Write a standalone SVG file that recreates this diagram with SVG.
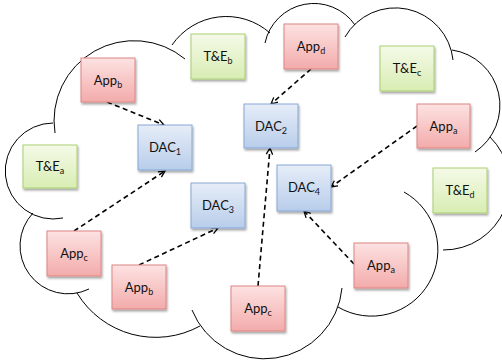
<svg xmlns="http://www.w3.org/2000/svg" width="502" height="360" viewBox="0 0 502 360">
  <defs>
    <linearGradient id="gApp" x1="0" y1="0" x2="0" y2="1">
      <stop offset="0" stop-color="#fde2e2"/>
      <stop offset="1" stop-color="#f3abab"/>
    </linearGradient>
    <linearGradient id="gTe" x1="0" y1="0" x2="0" y2="1">
      <stop offset="0" stop-color="#f5fae8"/>
      <stop offset="1" stop-color="#d8edb3"/>
    </linearGradient>
    <linearGradient id="gDac" x1="0" y1="0" x2="0" y2="1">
      <stop offset="0" stop-color="#e6edf8"/>
      <stop offset="1" stop-color="#b8cdea"/>
    </linearGradient>
    <filter id="shadow" x="-20%" y="-20%" width="150%" height="150%">
      <feDropShadow dx="1" dy="2" stdDeviation="1" flood-color="#000" flood-opacity="0.35"/>
    </filter>
    <marker id="arrow" viewBox="0 0 10 10" refX="9" refY="5" markerWidth="8" markerHeight="8" markerUnits="userSpaceOnUse" orient="auto">
      <path d="M1,1 L9,5 L1,9" fill="none" stroke="#000" stroke-width="1.6"/>
    </marker>
  </defs>
  <style>
    .lobe { fill: none; stroke: #000; stroke-width: 1; }
    .box { stroke-width: 1; filter: url(#shadow); }
    .app { fill: url(#gApp); stroke: #de8585; }
    .te { fill: url(#gTe); stroke: #aacf70; }
    .dac { fill: url(#gDac); stroke: #87a7d6; }
    .lbl { font-family: Lato, "Open Sans", sans-serif; font-size: 13px; fill: #111; text-anchor: middle; }
    .sub { font-size: 9px; }
    .link { fill: none; stroke: #000; stroke-width: 1.6; stroke-dasharray: 5 3.5; marker-end: url(#arrow); }
  </style>

  <rect width="502" height="360" fill="#fff"/>

  <!-- cloud outline: one arc per lobe, inner ends overlap the neighbouring lobe -->
  <g id="cloud">
    <path class="lobe" d="M55,133 A80,80 0 0 1 185,59"/>
    <path class="lobe" d="M172,45 A66,66 0 0 1 270,33"/>
    <path class="lobe" d="M265,43 A50,50 0 0 1 355,25"/>
    <path class="lobe" d="M345,37 A58,58 0 0 1 453,60"/>
    <path class="lobe" d="M452,50 A56,56 0 0 1 475,152"/>
    <path class="lobe" d="M490,137 A66,66 0 0 1 443,250"/>
    <path class="lobe" d="M404,192 A66.3,66.3 0 1 1 338,307"/>
    <path class="lobe" d="M342,288 A78,78 0 0 1 192,310"/>
    <path class="lobe" d="M77,293 A92,92 0 0 0 200,326"/>
    <path class="lobe" d="M33,213 A48,48 0 0 0 89,289"/>
    <path class="lobe" d="M53,123 A48,48 0 1 0 63,218"/>
  </g>

  <g id="connectors">
    <path class="link" d="M107,102 L164,125"/>
    <path class="link" d="M74,231 L165,171"/>
    <path class="link" d="M139,265 L218,228"/>
    <path class="link" d="M311,69 L271,104"/>
    <path class="link" d="M258,286 L270,148"/>
    <path class="link" d="M417,126 L331,187"/>
    <path class="link" d="M354,264 L304,211"/>
  </g>

  <g id="app-b-top">
    <rect class="box app" x="81" y="58" width="54" height="44"/>
    <text class="lbl" x="108" y="85">App<tspan class="sub" dy="3">b</tspan></text>
  </g>
  <g id="te-b">
    <rect class="box te" x="191" y="34" width="54" height="45"/>
    <text class="lbl" x="218" y="61">T&amp;E<tspan class="sub" dy="3">b</tspan></text>
  </g>
  <g id="dac-1">
    <rect class="box dac" x="138" y="125" width="54" height="45"/>
    <text class="lbl" x="165" y="152">DAC<tspan class="sub" dy="3">1</tspan></text>
  </g>
  <g id="te-a">
    <rect class="box te" x="23" y="145" width="54" height="43"/>
    <text class="lbl" x="50" y="171">T&amp;E<tspan class="sub" dy="3">a</tspan></text>
  </g>
  <g id="app-d">
    <rect class="box app" x="284" y="24" width="54" height="45"/>
    <text class="lbl" x="311" y="51">App<tspan class="sub" dy="3">d</tspan></text>
  </g>
  <g id="te-c">
    <rect class="box te" x="380" y="46" width="54" height="45"/>
    <text class="lbl" x="407" y="73">T&amp;E<tspan class="sub" dy="3">c</tspan></text>
  </g>
  <g id="dac-2">
    <rect class="box dac" x="244" y="104" width="54" height="44"/>
    <text class="lbl" x="271" y="131">DAC<tspan class="sub" dy="3">2</tspan></text>
  </g>
  <g id="app-a-top">
    <rect class="box app" x="417" y="104" width="53" height="44"/>
    <text class="lbl" x="443.5" y="131">App<tspan class="sub" dy="3">a</tspan></text>
  </g>
  <g id="dac-3">
    <rect class="box dac" x="191" y="183" width="54" height="45"/>
    <text class="lbl" x="218" y="210">DAC<tspan class="sub" dy="3">3</tspan></text>
  </g>
  <g id="app-c-left">
    <rect class="box app" x="47" y="231" width="54" height="45"/>
    <text class="lbl" x="74" y="258">App<tspan class="sub" dy="3">c</tspan></text>
  </g>
  <g id="app-b-bottom">
    <rect class="box app" x="112" y="265" width="54" height="44"/>
    <text class="lbl" x="139" y="292">App<tspan class="sub" dy="3">b</tspan></text>
  </g>
  <g id="dac-4">
    <rect class="box dac" x="277" y="165" width="54" height="46"/>
    <text class="lbl" x="304" y="192">DAC<tspan class="sub" dy="3">4</tspan></text>
  </g>
  <g id="te-d">
    <rect class="box te" x="433" y="168" width="54" height="45"/>
    <text class="lbl" x="460" y="195">T&amp;E<tspan class="sub" dy="3">d</tspan></text>
  </g>
  <g id="app-a-bottom">
    <rect class="box app" x="354" y="243" width="54" height="45"/>
    <text class="lbl" x="381" y="270">App<tspan class="sub" dy="3">a</tspan></text>
  </g>
  <g id="app-c-bottom">
    <rect class="box app" x="231" y="286" width="54" height="45"/>
    <text class="lbl" x="258" y="313">App<tspan class="sub" dy="3">c</tspan></text>
  </g>
</svg>
